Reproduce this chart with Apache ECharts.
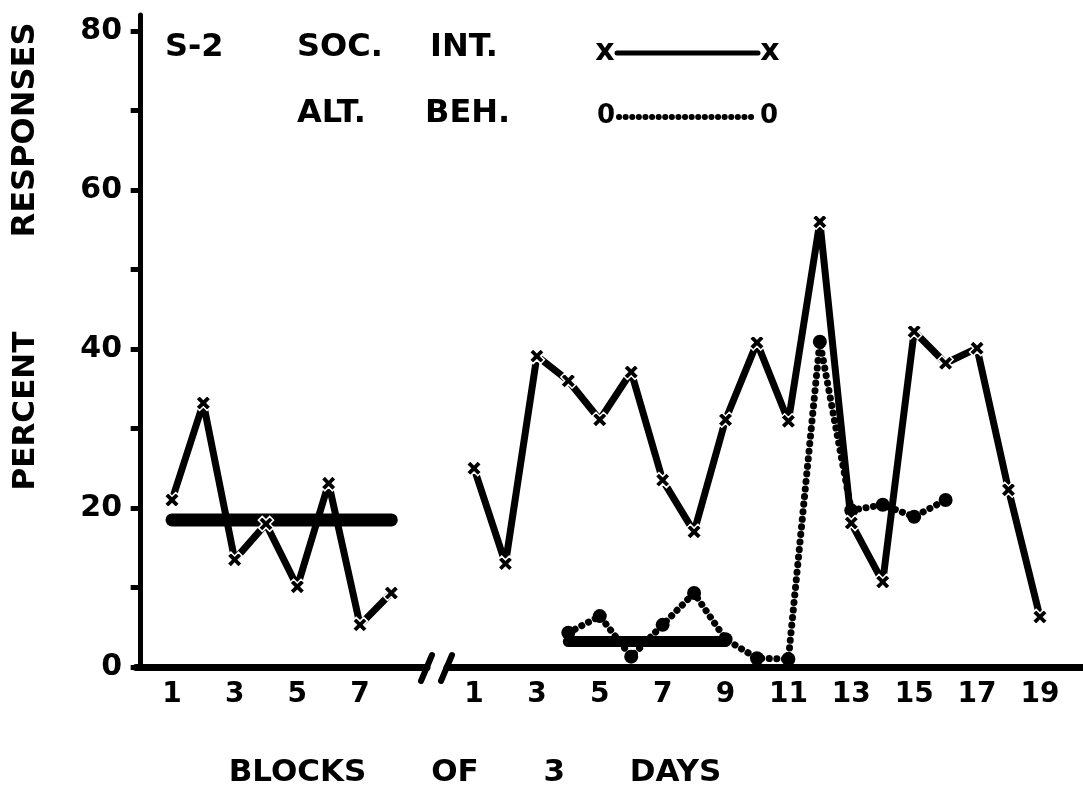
<!DOCTYPE html>
<html><head><meta charset="utf-8">
<script src="https://cdn.jsdelivr.net/npm/echarts@6/dist/echarts.min.js"></script>
<style>html,body{margin:0;padding:0;background:#fff}#c{width:1083px;height:790px}</style>
</head><body><div id="c"></div>
<script>
// ---- data ----
const baselineBlocks = [1, 2, 3, 4, 5, 6, 7, 8];
const baselineSocInt = [21, 33.2, 13.5, 18, 10.1, 23.1, 5.3, 9.3];
const baselineMeanValue = 18.5;
const baselineMeanRange = [1, 8];

const phase2Blocks = [1, 2, 3, 4, 5, 6, 7, 8, 9, 10, 11, 12, 13, 14, 15, 16, 17, 18, 19];
const phase2SocInt = [25, 13, 39.1, 36, 31.1, 37.1, 23.5, 17, 31.1, 40.8, 30.9, 56, 18.1, 10.7, 42.2, 38.2, 40.1, 22.3, 6.3];

const altBehBlocks = [4, 5, 6, 7, 8, 9, 10, 11, 12, 13, 14, 15, 16];
const phase2AltBeh = [4.3, 6.4, 1.3, 5.3, 9.3, 3.5, 1.1, 1.0, 40.9, 19.7, 20.4, 18.9, 21.0];
const altBehMeanValue = 3.2;
const altBehMeanRange = [4, 9];

const baselineTickLabels = [1, 3, 5, 7];
const phase2TickLabels = [1, 3, 5, 7, 9, 11, 13, 15, 17, 19];
const yTickValues = [0, 10, 20, 30, 40, 50, 60, 70, 80];
const yLabelValues = [0, 20, 40, 60, 80];

// ---- helpers ----
const zip = (xs, ys) => xs.map((x, i) => [x, ys[i]]);
const FONT = 'DejaVu Sans';
const BLACK = '#000';
const xSymbol = 'path://M0,2.5L2.5,0L5,2.5L7.5,0L10,2.5L7.5,5L10,7.5L7.5,10L5,7.5L2.5,10L0,7.5L2.5,5Z';

const chart = echarts.init(document.getElementById('c'), null, {renderer: 'canvas'});

const xAxisCommon = {
  type: 'value',
  axisLine: {show: true, lineStyle: {color: BLACK, width: 7}},
  axisTick: {show: false},
  splitLine: {show: false},
  axisLabel: {color: BLACK, fontFamily: FONT, fontWeight: 'bold', fontSize: 28, margin: 14}
};

const option = {
  animation: false,
  backgroundColor: '#fff',
  grid: [
    {left: 136, top: 15, width: 291, bottom: 123},
    {left: 447, top: 15, right: 0, bottom: 123}
  ],
  xAxis: [
    Object.assign({}, xAxisCommon, {gridIndex: 0, min: -0.149, max: 9.139,
      axisLabel: Object.assign({}, xAxisCommon.axisLabel, {customValues: baselineTickLabels})}),
    Object.assign({}, xAxisCommon, {gridIndex: 1, min: 0.141, max: 20.37,
      axisLabel: Object.assign({}, xAxisCommon.axisLabel, {customValues: phase2TickLabels})})
  ],
  yAxis: [
    {type: 'value', gridIndex: 0, min: 0, max: 82, position: 'left',
      axisLine: {show: true, lineStyle: {color: BLACK, width: 5}},
      axisTick: {show: true, customValues: yTickValues, length: 10, inside: false, lineStyle: {color: BLACK, width: 5}},
      axisLabel: {customValues: yLabelValues, color: BLACK, fontFamily: FONT, fontWeight: 'bold', fontSize: 30, margin: 14},
      splitLine: {show: false}},
    {type: 'value', gridIndex: 1, min: 0, max: 82, show: false, splitLine: {show: false}}
  ],
  series: [
    {name: 'SOC. INT.', type: 'line', xAxisIndex: 0, yAxisIndex: 0, clip: false,
      data: zip(baselineBlocks, baselineSocInt),
      lineStyle: {color: BLACK, width: 7, cap: 'round', join: 'round'},
      symbol: xSymbol, symbolSize: 15,
      itemStyle: {color: BLACK, borderColor: '#fff', borderWidth: 1.5}, z: 3},
    {name: 'Baseline mean', type: 'line', xAxisIndex: 0, yAxisIndex: 0, clip: false,
      data: baselineMeanRange.map(x => [x, baselineMeanValue]),
      lineStyle: {color: BLACK, width: 13, cap: 'round'}, symbol: 'none', z: 2},
    {name: 'SOC. INT. (phase 2)', type: 'line', xAxisIndex: 1, yAxisIndex: 1, clip: false,
      data: zip(phase2Blocks, phase2SocInt),
      lineStyle: {color: BLACK, width: 7, cap: 'round', join: 'round'},
      symbol: xSymbol, symbolSize: 15,
      itemStyle: {color: BLACK, borderColor: '#fff', borderWidth: 1.5}, z: 3},
    {name: 'ALT. BEH.', type: 'line', xAxisIndex: 1, yAxisIndex: 1, clip: false,
      data: zip(altBehBlocks, phase2AltBeh),
      lineStyle: {color: BLACK, width: 7, type: [0.1, 7.5], cap: 'round', join: 'round'},
      symbol: 'circle', symbolSize: 14,
      itemStyle: {color: BLACK}, z: 2},
    {name: 'ALT. BEH. mean', type: 'line', xAxisIndex: 1, yAxisIndex: 1, clip: false,
      data: altBehMeanRange.map(x => [x, altBehMeanValue]),
      lineStyle: {color: BLACK, width: 11, cap: 'round'}, symbol: 'none', z: 2}
  ],
  graphic: [
    // axis break marks
    {type: 'line', shape: {x1: 421, y1: 681, x2: 432, y2: 655}, style: {stroke: BLACK, lineWidth: 6, lineCap: 'round'}},
    {type: 'line', shape: {x1: 441, y1: 681, x2: 452, y2: 655}, style: {stroke: BLACK, lineWidth: 6, lineCap: 'round'}},
    // axis titles
    {type: 'text', x: 26, y: 130, rotation: Math.PI / 2,
      style: {text: 'RESPONSES', font: 'bold 32px "DejaVu Sans"', fill: BLACK, align: 'center', verticalAlign: 'middle'}},
    {type: 'text', x: 26, y: 411, rotation: Math.PI / 2,
      style: {text: 'PERCENT', font: 'bold 31px "DejaVu Sans"', fill: BLACK, align: 'center', verticalAlign: 'middle'}},
    {type: 'text', x: 475, y: 773,
      style: {text: 'BLOCKS      OF      3      DAYS', font: 'bold 31px "DejaVu Sans"', fill: BLACK, align: 'center', verticalAlign: 'middle'}},
    // legend
    {type: 'text', x: 165, y: 48, style: {text: 'S-2', font: 'bold 32px "DejaVu Sans"', fill: BLACK, verticalAlign: 'middle'}},
    {type: 'text', x: 297, y: 48, style: {text: 'SOC.', font: 'bold 32px "DejaVu Sans"', fill: BLACK, verticalAlign: 'middle'}},
    {type: 'text', x: 430, y: 48, style: {text: 'INT.', font: 'bold 32px "DejaVu Sans"', fill: BLACK, verticalAlign: 'middle'}},
    {type: 'text', x: 297, y: 114, style: {text: 'ALT.', font: 'bold 32px "DejaVu Sans"', fill: BLACK, verticalAlign: 'middle'}},
    {type: 'text', x: 425, y: 114, style: {text: 'BEH.', font: 'bold 32px "DejaVu Sans"', fill: BLACK, verticalAlign: 'middle'}},
    {type: 'text', x: 605, y: 52, style: {text: 'x', font: 'bold 30px "DejaVu Sans"', fill: BLACK, align: 'center', verticalAlign: 'middle'}},
    {type: 'text', x: 770, y: 52, style: {text: 'x', font: 'bold 30px "DejaVu Sans"', fill: BLACK, align: 'center', verticalAlign: 'middle'}},
    {type: 'line', shape: {x1: 617, y1: 53, x2: 758, y2: 53}, style: {stroke: BLACK, lineWidth: 5, lineCap: 'round'}},
    {type: 'text', x: 606, y: 116, style: {text: '0', font: 'bold 26px "DejaVu Sans"', fill: BLACK, align: 'center', verticalAlign: 'middle'}},
    {type: 'text', x: 769, y: 116, style: {text: '0', font: 'bold 26px "DejaVu Sans"', fill: BLACK, align: 'center', verticalAlign: 'middle'}},
    {type: 'line', shape: {x1: 619, y1: 117, x2: 757, y2: 117}, style: {stroke: BLACK, lineWidth: 6, lineCap: 'round', lineDash: [0.1, 6.5]}}
  ]
};
chart.setOption(option);
</script>
</body></html>
